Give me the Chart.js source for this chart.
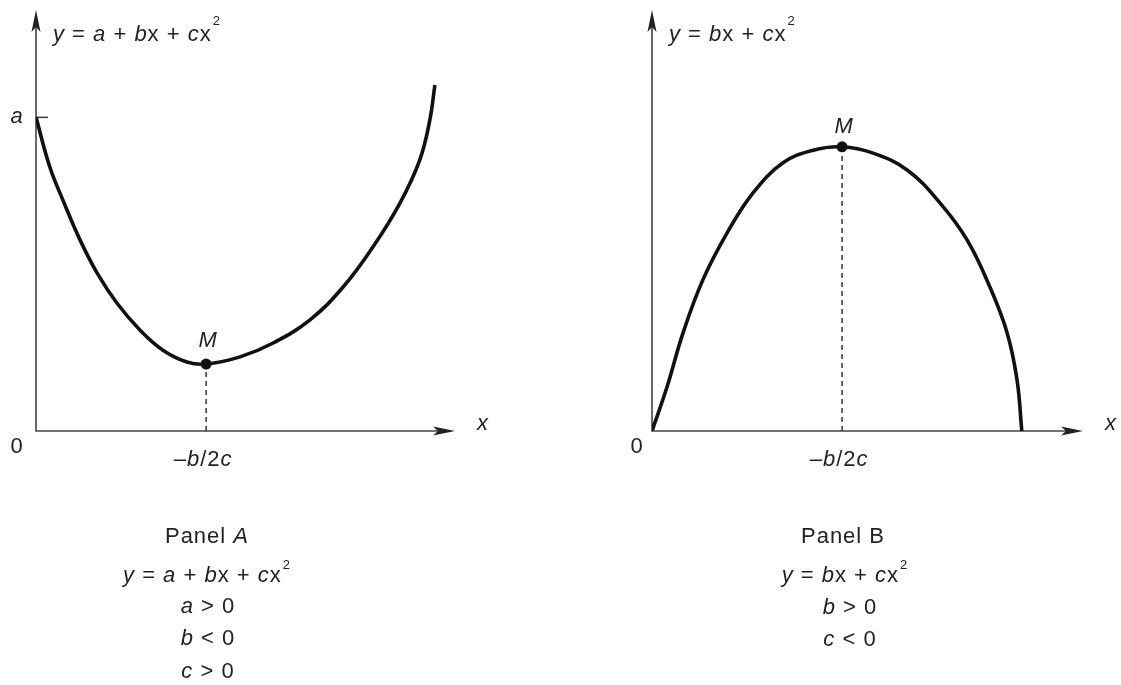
<!DOCTYPE html>
<html>
<head>
<meta charset="utf-8">
<title>Quadratic functions: Panel A and Panel B</title>
<script src="https://cdn.jsdelivr.net/npm/chart.js@4/dist/chart.umd.min.js"></script>
<style>
  html, body { margin: 0; padding: 0; background: #fff; }
  #wrap { position: relative; width: 1121px; height: 685px; overflow: hidden; }
  canvas { position: absolute; left: 0; top: 0; }
  .cap {
    position: absolute; width: 300px; text-align: center;
    font: 22px "Liberation Sans", Arial, Helvetica, sans-serif;
    letter-spacing: 1px;
    line-height: 26px; color: #222; white-space: nowrap;
  }
  .cap i { font-style: italic; }
  .cap .sup { font-size: 13px; position: relative; top: -13px; margin-left: 1px; }
</style>
</head>
<body>
<div id="wrap">
  <canvas id="chartA" width="1121" height="685"></canvas>
  <canvas id="chartB" width="1121" height="685"></canvas>

  <!-- Panel A caption -->
  <div class="cap" style="left:57px; top:523px;">Panel <i>A</i></div>
  <div class="cap" style="left:57px; top:562px;"><i>y</i> = <i>a</i> + <i>b</i>x + <i>c</i>x<span class="sup">2</span></div>
  <div class="cap" style="left:58px; top:593px;"><i>a</i> &gt; 0</div>
  <div class="cap" style="left:58px; top:625px;"><i>b</i> &lt; 0</div>
  <div class="cap" style="left:58px; top:658px;"><i>c</i> &gt; 0</div>

  <!-- Panel B caption -->
  <div class="cap" style="left:693px; top:523px;">Panel B</div>
  <div class="cap" style="left:695px; top:562px;"><i>y</i> = <i>b</i>x + <i>c</i>x<span class="sup">2</span></div>
  <div class="cap" style="left:700px; top:594px;"><i>b</i> &gt; 0</div>
  <div class="cap" style="left:700px; top:626px;"><i>c</i> &lt; 0</div>
</div>

<script>
// Panel A: y = a + bx + cx^2 with a > 0, b < 0, c > 0 (U-shaped, minimum at M)
const curveAX = [0, 0.33, 0.64, 1.05, 1.46, 1.93, 2.48, 3.03, 3.60, 4.06, 4.87, 5.66, 6.54, 7.33, 8.04, 8.69, 9.16, 9.40, 9.52];
const curveAY = [7.45, 6.27, 5.49, 4.54, 3.75, 3.04, 2.40, 1.92, 1.64, 1.59, 1.76, 2.09, 2.64, 3.42, 4.37, 5.42, 6.44, 7.39, 8.22];
const interceptA = 7.45;   // value "a" on the vertical axis

// Panel B: y = bx + cx^2 with b > 0, c < 0 (inverted U, maximum at M)
const curveBX = [0, 0.35, 0.72, 1.18, 1.74, 2.34, 3.04, 3.74, 4.41, 5.13, 5.92, 6.68, 7.31, 7.84, 8.24, 8.47, 8.58];
const curveBY = [0, 1.05, 2.33, 3.59, 4.70, 5.65, 6.37, 6.67, 6.75, 6.60, 6.20, 5.42, 4.54, 3.42, 2.33, 1.21, 0];

// Axis extents (abstract units)
const axisMax = 10;

const FONT = '"Liberation Sans", Arial, Helvetica, sans-serif';
const INK = '#222';

function toPoints(xs, ys) { return xs.map((x, i) => ({ x, y: ys[i] })); }

// Draw a run of text pieces: [text, style] where style is 'r' roman, 'i' italic, 's' superscript
function drawRuns(ctx, parts, x, y, align, supRise) {
  const fontOf = s => s === 's' ? `13px ${FONT}` : (s === 'i' ? `italic 22px ${FONT}` : `22px ${FONT}`);
  ctx.letterSpacing = '1px';
  const widths = parts.map(([t, s]) => { ctx.font = fontOf(s); return ctx.measureText(t).width + (s === 's' ? 1 : 0); });
  const total = widths.reduce((a, b) => a + b, 0);
  let cx = align === 'center' ? x - total / 2 : (align === 'right' ? x - total : x);
  ctx.textAlign = 'left';
  ctx.textBaseline = 'alphabetic';
  ctx.fillStyle = INK;
  parts.forEach(([t, s], i) => {
    ctx.font = fontOf(s);
    ctx.fillText(t, cx + (s === 's' ? 1 : 0), s === 's' ? y - (supRise || 16) : y);
    cx += widths[i];
  });
}

function arrowHead(ctx, tipX, tipY, dir) {
  // dir: 'right' or 'up'
  const len = 22, half = 4.5, notch = 17;
  ctx.beginPath();
  if (dir === 'right') {
    ctx.moveTo(tipX, tipY);
    ctx.lineTo(tipX - len, tipY - half);
    ctx.lineTo(tipX - notch, tipY);
    ctx.lineTo(tipX - len, tipY + half);
  } else {
    ctx.moveTo(tipX, tipY);
    ctx.lineTo(tipX - half, tipY + len);
    ctx.lineTo(tipX, tipY + notch);
    ctx.lineTo(tipX + half, tipY + len);
  }
  ctx.closePath();
  ctx.fillStyle = '#222';
  ctx.fill();
}

// Axes with arrowheads, drawn beneath the curve
const axesPlugin = {
  id: 'arrowAxes',
  beforeDatasetsDraw(chart) {
    const { ctx, scales: { x, y } } = chart;
    const x0 = x.getPixelForValue(0), y0 = y.getPixelForValue(0);
    const xEnd = x.getPixelForValue(axisMax), yEnd = y.getPixelForValue(axisMax);
    ctx.save();
    ctx.strokeStyle = '#444';
    ctx.lineWidth = 1.6;
    ctx.beginPath();
    ctx.moveTo(x0, yEnd + 10); ctx.lineTo(x0, y0);
    ctx.lineTo(xEnd - 10, y0);
    ctx.stroke();
    arrowHead(ctx, xEnd, y0, 'right');
    arrowHead(ctx, x0, yEnd, 'up');
    const opts = chart.options.plugins.arrowAxes;
    if (opts.tickValue != null) {
      const ty = y.getPixelForValue(opts.tickValue);
      ctx.beginPath();
      ctx.moveTo(x0, ty); ctx.lineTo(x0 + 12, ty);
      ctx.stroke();
    }
    ctx.restore();
  },
  afterDraw(chart) {
    const { ctx, scales: { x, y } } = chart;
    const opts = chart.options.plugins.arrowAxes;
    const x0 = x.getPixelForValue(0), y0 = y.getPixelForValue(0);
    const xEnd = x.getPixelForValue(axisMax);
    const vx = x.getPixelForValue(opts.vertex.x), vy = y.getPixelForValue(opts.vertex.y);
    ctx.save();
    // equation at the top of the vertical axis
    drawRuns(ctx, opts.formula, x0 + 17, 41, 'left', 16);
    // origin, axis name, vertex labels
    drawRuns(ctx, [['0', 'r']], x0 - opts.zeroGap, y0 + 22, 'center');
    drawRuns(ctx, [['x', 'i']], xEnd + 22, y0 - 1, 'left');
    drawRuns(ctx, [['M', 'i']], vx + 2, vy - opts.mGap, 'center');
    drawRuns(ctx, [['\u2013', 'r'], ['b', 'i'], ['/2', 'r'], ['c', 'i']], vx - 3, y0 + 35, 'center');
    if (opts.tickValue != null) {
      const ty = y.getPixelForValue(opts.tickValue);
      drawRuns(ctx, [['a', 'i']], x0 - 19, ty + 6, 'center');
    }
    ctx.restore();
  }
};

function makeChart(id, xs, ys, vertexIndex, padding, extra) {
  const vertex = { x: xs[vertexIndex], y: ys[vertexIndex] };
  return new Chart(document.getElementById(id), {
    type: 'scatter',
    data: {
      datasets: [
        {
          data: [vertex],
          pointRadius: 5.5,
          pointBackgroundColor: '#111',
          pointBorderWidth: 0,
          showLine: false,
          order: 0
        },
        {
          data: toPoints(xs, ys),
          showLine: true,
          borderColor: '#111',
          borderWidth: 3.6,
          pointRadius: 0,
          tension: 0.4,
          fill: false,
          order: 1
        },
        {
          data: [{ x: vertex.x, y: 0 }, { x: vertex.x, y: vertex.y }],
          showLine: true,
          borderColor: '#333',
          borderWidth: 1.5,
          borderDash: [5, 4],
          pointRadius: 0,
          order: 2
        }
      ]
    },
    options: {
      responsive: false,
      animation: false,
      events: [],
      layout: { padding },
      scales: {
        x: { type: 'linear', min: 0, max: axisMax, display: false },
        y: { type: 'linear', min: 0, max: axisMax, display: false }
      },
      plugins: {
        legend: { display: false },
        tooltip: { enabled: false },
        arrowAxes: Object.assign({ vertex }, extra)
      }
    },
    plugins: [axesPlugin]
  });
}

const minA = curveAY.indexOf(Math.min(...curveAY));
const maxB = curveBY.indexOf(Math.max(...curveBY));

makeChart('chartA', curveAX, curveAY, minA,
  { left: 36, right: 666, top: 10, bottom: 254 },
  {
    tickValue: interceptA, zeroGap: 19, mGap: 17,
    formula: [['y', 'i'], [' = ', 'r'], ['a', 'i'], [' + ', 'r'], ['b', 'i'], ['x', 'r'], [' + ', 'r'], ['c', 'i'], ['x', 'r'], ['2', 's']]
  });

makeChart('chartB', curveBX, curveBY, maxB,
  { left: 652, right: 38, top: 10, bottom: 254 },
  {
    tickValue: null, zeroGap: 15, mGap: 14,
    formula: [['y', 'i'], [' = ', 'r'], ['b', 'i'], ['x', 'r'], [' + ', 'r'], ['c', 'i'], ['x', 'r'], ['2', 's']]
  });
</script>
</body>
</html>
